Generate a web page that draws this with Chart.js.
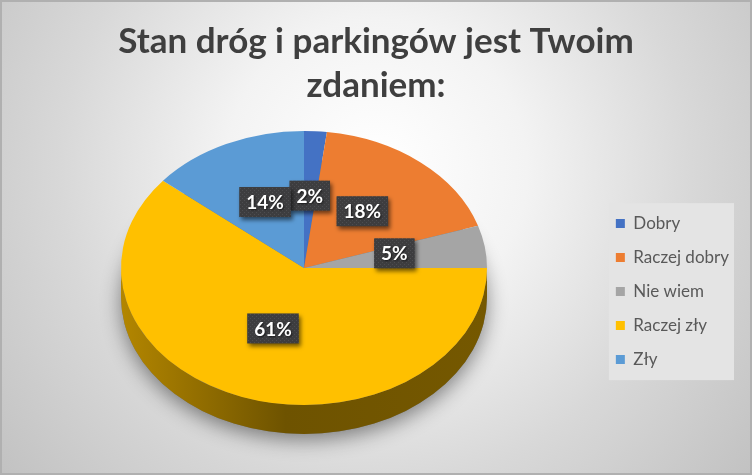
<!DOCTYPE html>
<html lang="pl">
<head>
    <meta charset="UTF-8">
    <title>Stan dróg i parkingów</title>
    <script src="https://cdn.jsdelivr.net/npm/chart.js"></script>
    <style>
        body { margin: 0; background: #fff; }
    </style>
</head>
<body>
    <canvas id="pieChart" width="752" height="475"></canvas>

    <script>
        const categories = ['Dobry', 'Raczej dobry', 'Nie wiem', 'Raczej zły', 'Zły'];
        const values = [2, 18, 5, 61, 14];
        const sliceColors = ['#4472C4', '#ED7D31', '#A5A5A5', '#FFC000', '#5B9BD5'];
        const titleLines = ['Stan dróg i parkingów jest Twoim', 'zdaniem:'];

        // the pie is drawn tilted: top face squashed into an ellipse, plus a side wall
        const tilt = { cx: 304, cy: 268, rx: 183, ry: 137, depth: 29 };

        function shade(hex, f) {
            const n = parseInt(hex.slice(1), 16);
            const r = Math.round(((n >> 16) & 255) * f);
            const g = Math.round(((n >> 8) & 255) * f);
            const b = Math.round((n & 255) * f);
            return `rgb(${r},${g},${b})`;
        }

        // small dotted texture for the label boxes
        const dotCanvas = document.createElement('canvas');
        dotCanvas.width = 4; dotCanvas.height = 4;
        const dctx = dotCanvas.getContext('2d');
        dctx.fillStyle = '#3d3d3f';
        dctx.fillRect(0, 0, 4, 4);
        dctx.fillStyle = '#4d4d50';
        dctx.fillRect(0, 0, 1, 1);
        dctx.fillRect(2, 2, 1, 1);

        const background = {
            id: 'background',
            beforeDraw(chart) {
                const { ctx, width, height } = chart;
                ctx.save();
                const g = ctx.createRadialGradient(376, 170, 10, 376, 170, 480);
                g.addColorStop(0, '#ffffff');
                g.addColorStop(0.3, '#f3f3f3');
                g.addColorStop(0.65, '#d8d8d8');
                g.addColorStop(1, '#c2c2c2');
                ctx.fillStyle = g;
                ctx.fillRect(0, 0, width, height);
                ctx.strokeStyle = '#b0b0b0';
                ctx.lineWidth = 2;
                ctx.strokeRect(1, 1, width - 2, height - 2);

                // light panel behind the legend
                const boxes = chart.legend.legendHitBoxes;
                if (boxes.length) {
                    const first = boxes[0], last = boxes[boxes.length - 1];
                    const right = Math.max(...boxes.map(b => b.left + b.width));
                    ctx.fillStyle = '#e4e4e4';
                    ctx.fillRect(first.left - 7, first.top - 12, right - first.left + 12, last.top + last.height - first.top + 24);
                }
                ctx.restore();
            }
        };

        const tilt3d = {
            id: 'tilt3d',
            beforeDatasetsDraw(chart) {
                const ctx = chart.ctx;
                const arcs = chart.getDatasetMeta(0).data;
                const { cx, cy, rx, ry, depth } = tilt;

                ctx.save();
                // soft shadow under the base
                ctx.save();
                ctx.shadowColor = 'rgba(0,0,0,0.45)';
                ctx.shadowBlur = 20;
                ctx.shadowOffsetY = 6;
                ctx.fillStyle = '#777';
                ctx.beginPath();
                ctx.ellipse(cx, cy + depth, rx, ry, 0, 0, Math.PI * 2);
                ctx.fill();
                ctx.restore();

                // side wall, only the front half is visible
                arcs.forEach((arc, i) => {
                    const a = Math.max(arc.startAngle, 0);
                    const b = Math.min(arc.endAngle, Math.PI);
                    if (a >= b) return;
                    const g = ctx.createLinearGradient(cx - rx, 0, cx + rx, 0);
                    g.addColorStop(0, shade(sliceColors[i], 0.7));
                    g.addColorStop(0.45, shade(sliceColors[i], 0.43));
                    g.addColorStop(1, shade(sliceColors[i], 0.46));
                    ctx.fillStyle = g;
                    ctx.beginPath();
                    ctx.ellipse(cx, cy, rx, ry, 0, a, b);
                    ctx.lineTo(cx + rx * Math.cos(b), cy + ry * Math.sin(b) + depth);
                    ctx.ellipse(cx, cy + depth, rx, ry, 0, b, a, true);
                    ctx.closePath();
                    ctx.fill();
                });

                // squash the library's round pie into the top face ellipse
                const arc = arcs[0];
                ctx.translate(cx, cy);
                ctx.scale(rx / arc.outerRadius, ry / arc.outerRadius);
                ctx.translate(-arc.x, -arc.y);
            },
            afterDatasetsDraw(chart) {
                const ctx = chart.ctx;
                ctx.restore();
                const arcs = chart.getDatasetMeta(0).data;
                const { cx, cy, rx, ry } = tilt;
                const total = values.reduce((s, v) => s + v, 0);

                arcs.forEach((arc, i) => {
                    const p = arc.tooltipPosition();
                    const x = cx + (p.x - arc.x) * rx / arc.outerRadius;
                    const y = cy - 4 + (p.y - arc.y) * ry / arc.outerRadius;
                    const txt = Math.round(values[i] / total * 100) + '%';
                    ctx.save();
                    ctx.font = 'bold 19px Lato';
                    const w = ctx.measureText(txt).width + 14, h = 30;
                    ctx.shadowColor = 'rgba(0,0,0,0.55)';
                    ctx.shadowBlur = 4;
                    ctx.shadowOffsetX = 2;
                    ctx.shadowOffsetY = 3;
                    ctx.fillStyle = ctx.createPattern(dotCanvas, 'repeat');
                    ctx.fillRect(x - w / 2, y - h / 2, w, h);
                    ctx.shadowColor = 'rgba(0,0,0,0.6)';
                    ctx.shadowBlur = 2;
                    ctx.shadowOffsetX = 1;
                    ctx.shadowOffsetY = 1;
                    ctx.fillStyle = '#ffffff';
                    ctx.textAlign = 'center';
                    ctx.textBaseline = 'middle';
                    ctx.fillText(txt, x, y + 1);
                    ctx.restore();
                });
            }
        };

        const ctx = document.getElementById('pieChart').getContext('2d');
        const chart = new Chart(ctx, {
            type: 'pie',
            data: {
                labels: categories,
                datasets: [{
                    data: values,
                    backgroundColor: sliceColors,
                    borderWidth: 0,
                    clip: false
                }]
            },
            options: {
                responsive: false,
                animation: false,
                events: [],
                layout: {
                    padding: { left: 13, right: 13, top: 0, bottom: 10 }
                },
                plugins: {
                    title: {
                        display: true,
                        text: titleLines,
                        color: '#3f3f3f',
                        font: { family: 'Lato', size: 35, weight: 'bold', lineHeight: 1.26 },
                        padding: { top: 20, bottom: 10 }
                    },
                    legend: {
                        position: 'right',
                        fullSize: false,
                        labels: {
                            boxWidth: 9,
                            boxHeight: 9,
                            padding: 17,
                            color: '#595959',
                            font: { family: 'Lato', size: 17 }
                        }
                    },
                    tooltip: { enabled: false }
                }
            },
            plugins: [background, tilt3d]
        });
    </script>
</body>
</html>
